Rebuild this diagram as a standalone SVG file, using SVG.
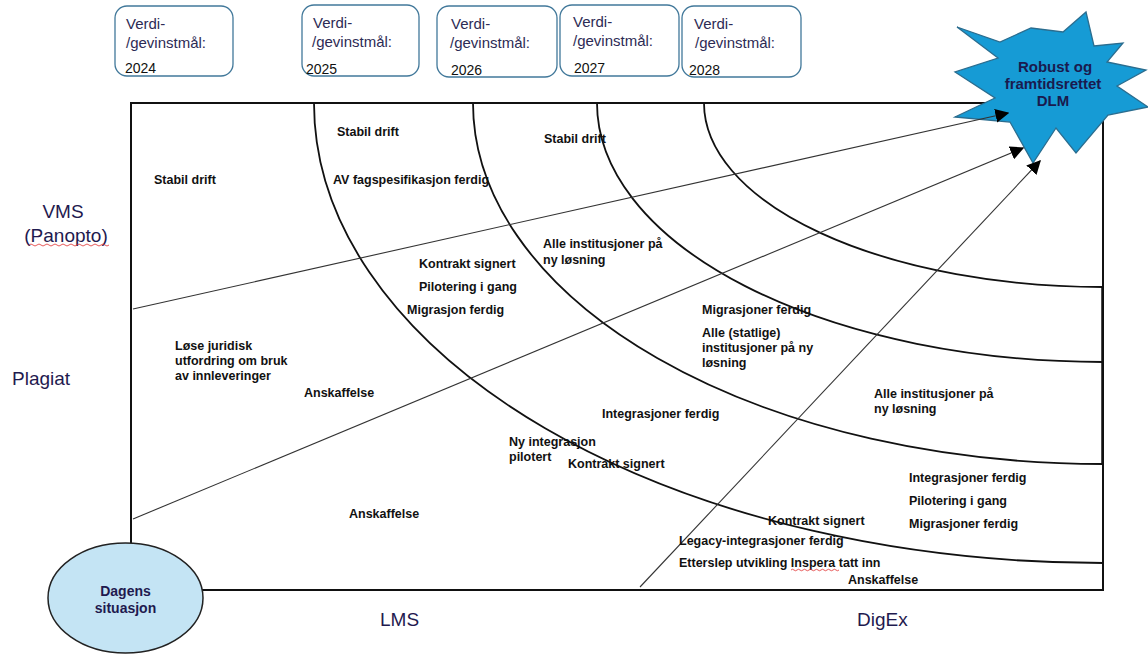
<svg xmlns="http://www.w3.org/2000/svg" width="1148" height="654" viewBox="0 0 1148 654">
<style>
.box{fill:#fff;stroke:#41789a;stroke-width:1.3}
.bt{font-family:"Liberation Sans",Arial,sans-serif;font-size:15px;fill:#2d2b55}
.yr{font-family:"Liberation Sans",Arial,sans-serif;font-size:14px;fill:#111}
.ax{font-family:"Liberation Sans",Arial,sans-serif;font-size:19px;fill:#1f1a4f}
.lb{font-family:"Liberation Sans",Arial,sans-serif;font-size:12.5px;font-weight:bold;fill:#111}
.arc{fill:none;stroke:#111;stroke-width:1.8}
.diag{stroke:#333;stroke-width:1.1;fill:none}
.sq{fill:none;stroke:#e03030;stroke-width:0.8}
</style>
<defs>
<marker id="ah" viewBox="0 0 10 10" refX="9" refY="5" markerWidth="14" markerHeight="14" markerUnits="userSpaceOnUse" orient="auto">
<path d="M0,0 L10,5 L0,10 z" fill="#000"/>
</marker>
</defs>

<g id="frame">
<rect x="131" y="103" width="972" height="487" fill="none" stroke="#111" stroke-width="2"/>
<line x1="1102.5" y1="287" x2="1102.5" y2="465" stroke="#111" stroke-width="2.5"/>
</g>

<g id="arcs">
<path class="arc" d="M314 103 A789 460 0 0 0 1103 563"/>
<path class="arc" d="M473 103 A630 361 0 0 0 1103 464"/>
<path class="arc" d="M597 103 A506 259 0 0 0 1103 362"/>
<path class="arc" d="M704 103 A399 184 0 0 0 1103 287"/>
</g>

<g id="year-boxes">
<g id="y2024">
<rect class="box" x="115" y="6" width="118" height="70" rx="12"/>
<text class="bt" x="126" y="29">Verdi-</text>
<text class="bt" x="126" y="48">/gevinstmål:</text>
<text class="yr" x="125" y="73">2024</text>
</g>
<g id="y2025">
<rect class="box" x="302" y="5" width="117" height="71" rx="12"/>
<text class="bt" x="313" y="28">Verdi-</text>
<text class="bt" x="312" y="47">/gevinstmål:</text>
<text class="yr" x="306" y="74">2025</text>
</g>
<g id="y2026">
<rect class="box" x="437" y="6" width="120" height="71" rx="12"/>
<text class="bt" x="451" y="29">Verdi-</text>
<text class="bt" x="450" y="48">/gevinstmål:</text>
<text class="yr" x="451" y="75">2026</text>
</g>
<g id="y2027">
<rect class="box" x="560" y="5" width="119" height="71" rx="12"/>
<text class="bt" x="573" y="27">Verdi-</text>
<text class="bt" x="573" y="46">/gevinstmål:</text>
<text class="yr" x="574" y="73">2027</text>
</g>
<g id="y2028">
<rect class="box" x="682" y="6" width="119" height="71" rx="12"/>
<text class="bt" x="694" y="29">Verdi-</text>
<text class="bt" x="695" y="48">/gevinstmål:</text>
<text class="yr" x="689" y="75">2028</text>
</g>
</g>

<g id="goal">
<polygon points="1086,12 1094,46 1123,43 1107,62 1146,70 1117,86 1148,107 1108,115 1076,153 1056,128 1033,163 1010,122 955,117 995,98 955,72 998,58 957,27 1000,42 1031,28 1063,32" fill="#169bd5" stroke="#2b6d8f" stroke-width="1.3" stroke-linejoin="miter"/>
<text x="1055" y="72" text-anchor="middle" font-family="Liberation Sans,Arial,sans-serif" font-size="15" font-weight="bold" fill="#1a1a4e">Robust og</text>
<text x="1053" y="89" text-anchor="middle" font-family="Liberation Sans,Arial,sans-serif" font-size="15" font-weight="bold" fill="#1a1a4e">framtidsrettet</text>
<text x="1053" y="106" text-anchor="middle" font-family="Liberation Sans,Arial,sans-serif" font-size="15" font-weight="bold" fill="#1a1a4e">DLM</text>
</g>

<g id="connectors">
<line class="diag" x1="133" y1="309" x2="1008" y2="113" marker-end="url(#ah)"/>
<line class="diag" x1="133" y1="519" x2="1023" y2="148" marker-end="url(#ah)"/>
<line class="diag" x1="640" y1="587" x2="1040" y2="161" marker-end="url(#ah)"/>
</g>

<g id="start">
<ellipse cx="125.5" cy="598" rx="77.5" ry="55" fill="#c4e4f4" stroke="#222" stroke-width="1.5"/>
<text x="125.5" y="596" text-anchor="middle" font-family="Liberation Sans,Arial,sans-serif" font-size="14" font-weight="bold" fill="#1f1a4f">Dagens</text>
<text x="125.5" y="613" text-anchor="middle" font-family="Liberation Sans,Arial,sans-serif" font-size="14" font-weight="bold" fill="#1f1a4f">situasjon</text>
</g>

<g id="axis-labels">
<text class="ax" x="63" y="218" text-anchor="middle">VMS</text>
<text class="ax" x="66" y="242" text-anchor="middle">(Panopto)</text>
<path class="sq" d="M29 245 q2 -2 4 0 t4 0 t4 0 t4 0 t4 0 t4 0 t4 0 t4 0 t4 0 t4 0 t4 0 t4 0 t4 0 t4 0 t4 0 t4 0 t4 0 t4 0 t4 0 t4 0"/>
<text class="ax" x="12" y="385">Plagiat</text>
<text class="ax" x="380" y="626">LMS</text>
<text class="ax" x="857" y="626">DigEx</text>
</g>

<g id="labels">
<text class="lb" x="154" y="184">Stabil drift</text>
<text class="lb" x="337" y="136">Stabil drift</text>
<text class="lb" x="333" y="184">AV fagspesifikasjon ferdig</text>
<text class="lb" x="544" y="143">Stabil drift</text>
<text class="lb" x="543" y="248">Alle institusjoner på</text>
<text class="lb" x="543" y="264">ny løsning</text>
<text class="lb" x="419" y="268">Kontrakt signert</text>
<text class="lb" x="419" y="291">Pilotering i gang</text>
<text class="lb" x="407" y="314">Migrasjon ferdig</text>
<text class="lb" x="175" y="350">Løse juridisk</text>
<text class="lb" x="175" y="365">utfordring om bruk</text>
<text class="lb" x="175" y="380">av innleveringer</text>
<text class="lb" x="304" y="397">Anskaffelse</text>
<text class="lb" x="702" y="314">Migrasjoner ferdig</text>
<text class="lb" x="702" y="337">Alle (statlige)</text>
<text class="lb" x="702" y="352">institusjoner på ny</text>
<text class="lb" x="702" y="367">løsning</text>
<text class="lb" x="602" y="418">Integrasjoner ferdig</text>
<text class="lb" x="509" y="446">Ny integrasjon</text>
<text class="lb" x="509" y="461">pilotert</text>
<text class="lb" x="568" y="468">Kontrakt signert</text>
<text class="lb" x="874" y="398">Alle institusjoner på</text>
<text class="lb" x="874" y="413">ny løsning</text>
<text class="lb" x="909" y="482">Integrasjoner ferdig</text>
<text class="lb" x="909" y="505">Pilotering i gang</text>
<text class="lb" x="909" y="528">Migrasjoner ferdig</text>
<text class="lb" x="768" y="525">Kontrakt signert</text>
<text class="lb" x="679" y="545">Legacy-integrasjoner ferdig</text>
<text class="lb" x="679" y="567">Etterslep utvikling Inspera tatt inn</text>
<path class="sq" d="M791 570 q1.5 -1.5 3 0 t3 0 t3 0 t3 0 t3 0 t3 0 t3 0 t3 0 t3 0 t3 0 t3 0 t3 0 t3 0 t3 0 t3 0 t3 0"/>
<text class="lb" x="848" y="584">Anskaffelse</text>
<text class="lb" x="349" y="518">Anskaffelse</text>
</g>
</svg>
